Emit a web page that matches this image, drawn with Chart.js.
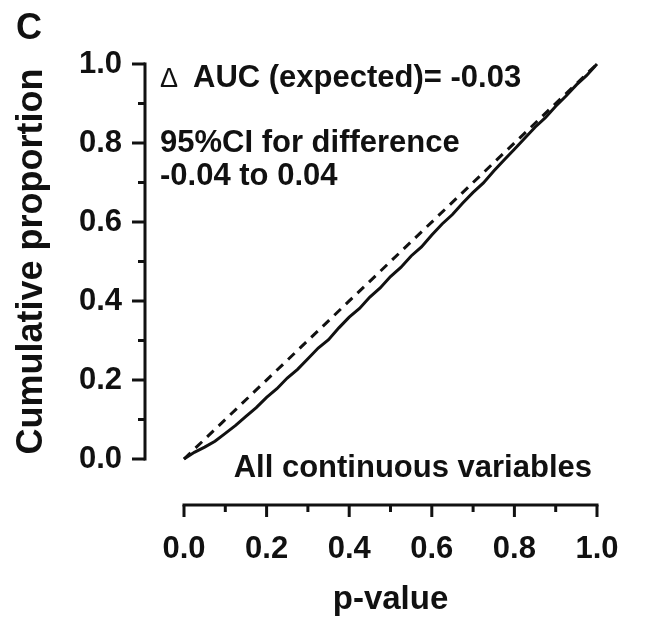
<!DOCTYPE html>
<html>
<head>
<meta charset="utf-8">
<script src="https://cdn.jsdelivr.net/npm/chart.js@4.4.0/dist/chart.umd.min.js"></script>
<style>
  body { margin: 0; background: #fff; }
</style>
</head>
<body>
<canvas id="myChart" width="657" height="620"></canvas>
<script>
// observed cumulative proportion of p-values
const pValues = [0, 0.025, 0.05, 0.075, 0.1, 0.125, 0.15, 0.175, 0.2, 0.225, 0.25, 0.275, 0.3, 0.325, 0.35, 0.375, 0.4, 0.425, 0.45, 0.475, 0.5,
  0.525, 0.55, 0.575, 0.6, 0.625, 0.65, 0.675, 0.7, 0.725, 0.75, 0.775, 0.8, 0.825, 0.85, 0.875, 0.9, 0.925, 0.95, 0.975, 1.0];
const observedProp = [0, 0.017, 0.030, 0.045, 0.065, 0.085, 0.108, 0.130, 0.156, 0.178, 0.205, 0.227, 0.254, 0.281, 0.302, 0.332, 0.359, 0.381, 0.410, 0.433, 0.462,
  0.485, 0.514, 0.537, 0.567, 0.595, 0.619, 0.648, 0.675, 0.699, 0.729, 0.757, 0.784, 0.812, 0.840, 0.864, 0.893, 0.919, 0.947, 0.971, 1.0];

// expected (uniform) line
const expectedX = [0, 1];
const expectedY = [0, 1];

const tickValues = [0, 0.2, 0.4, 0.6, 0.8, 1.0];
const minorTickValues = [0, 0.1, 0.2, 0.3, 0.4, 0.5, 0.6, 0.7, 0.8, 0.9, 1.0];

const panelLabel = 'C';
const annotations = ['\u0394', 'AUC (expected)= -0.03', '95%CI for difference', '-0.04 to 0.04', 'All continuous variables'];

const ink = '#111';
const fontFamily = '"Liberation Sans", Arial, sans-serif';

// draws the detached axes (offset from the plot like the original) and the text notes
const prismAxes = {
  id: 'prismAxes',
  afterDraw(chart) {
    const ctx = chart.ctx;
    const xs = chart.scales.x;
    const ys = chart.scales.y;
    const area = chart.chartArea;
    const axisX = area.left - 39;   // y axis line position
    const axisY = area.bottom + 46; // x axis line position

    ctx.save();
    ctx.strokeStyle = ink;
    ctx.lineWidth = 3;
    ctx.lineCap = 'butt';

    // y axis
    ctx.beginPath();
    ctx.moveTo(axisX, ys.getPixelForValue(0) + 1.5);
    ctx.lineTo(axisX, ys.getPixelForValue(1) - 1.5);
    ctx.stroke();
    minorTickValues.forEach((v, i) => {
      const y = ys.getPixelForValue(v);
      const len = i % 2 === 0 ? 13 : 7;
      ctx.beginPath();
      ctx.moveTo(axisX, y);
      ctx.lineTo(axisX - len, y);
      ctx.stroke();
    });

    // x axis
    ctx.beginPath();
    ctx.moveTo(xs.getPixelForValue(0) - 1.5, axisY);
    ctx.lineTo(xs.getPixelForValue(1) + 1.5, axisY);
    ctx.stroke();
    minorTickValues.forEach((v, i) => {
      const x = xs.getPixelForValue(v);
      const len = i % 2 === 0 ? 12 : 7;
      ctx.beginPath();
      ctx.moveTo(x, axisY);
      ctx.lineTo(x, axisY + len);
      ctx.stroke();
    });

    // text
    ctx.fillStyle = ink;
    ctx.textBaseline = 'alphabetic';
    ctx.textAlign = 'left';
    ctx.font = 'bold 36px ' + fontFamily;
    ctx.fillText(panelLabel, 16, 39);

    ctx.font = '27px ' + fontFamily;
    ctx.fillText(annotations[0], 160, 87);
    ctx.font = 'bold 31px ' + fontFamily;
    ctx.fillText(annotations[1], 193, 87);
    ctx.fillText(annotations[2], 160, 152);
    ctx.fillText(annotations[3], 160, 185);
    ctx.textAlign = 'right';
    ctx.fillText(annotations[4], 592, 477);
    ctx.restore();
  }
};

const ctx = document.getElementById('myChart').getContext('2d');

new Chart(ctx, {
  type: 'scatter',
  data: {
    datasets: [{
      label: 'observed',
      data: pValues.map((p, i) => ({ x: p, y: observedProp[i] })),
      showLine: true,
      borderColor: ink,
      borderWidth: 3,
      pointRadius: 0,
      tension: 0,
      clip: false
    }, {
      label: 'expected',
      data: expectedX.map((p, i) => ({ x: p, y: expectedY[i] })),
      showLine: true,
      borderColor: ink,
      borderWidth: 3,
      borderDash: [9, 7],
      pointRadius: 0,
      clip: false
    }]
  },
  options: {
    responsive: false,
    animation: false,
    layout: { padding: { top: 64, right: 60, left: 0, bottom: 0 } },
    plugins: {
      legend: { display: false },
      tooltip: { enabled: false }
    },
    scales: {
      x: {
        type: 'linear',
        min: 0,
        max: 1,
        afterBuildTicks: s => { s.ticks = tickValues.map(v => ({ value: v })); },
        // fixed box; the big tick padding should not push the plot inwards
        afterFit: s => { s.height = 161; s.paddingLeft = 0; s.paddingRight = 0; },
        grid: { drawOnChartArea: false, drawTicks: false },
        border: { display: false },
        ticks: {
          autoSkip: false,
          maxRotation: 0,
          minRotation: 0,
          padding: 72,
          color: ink,
          font: { family: fontFamily, size: 31, weight: 'bold' },
          callback: v => v.toFixed(1)
        },
        title: {
          display: true,
          text: 'p-value',
          color: ink,
          font: { family: fontFamily, size: 33, weight: 'bold' },
          padding: { top: 0, bottom: 0 }
        }
      },
      y: {
        type: 'linear',
        min: 0,
        max: 1,
        afterBuildTicks: s => { s.ticks = tickValues.map(v => ({ value: v })); },
        afterFit: s => { s.width = 184; s.paddingTop = 0; s.paddingBottom = 0; },
        grid: { drawOnChartArea: false, drawTicks: false },
        border: { display: false },
        ticks: {
          autoSkip: false,
          padding: 62,
          color: ink,
          font: { family: fontFamily, size: 31, weight: 'bold' },
          callback: v => v.toFixed(1)
        },
        title: {
          display: true,
          text: 'Cumulative proportion',
          color: ink,
          font: { family: fontFamily, size: 36, weight: 'bold' },
          padding: { top: 10, bottom: 0 }
        }
      }
    }
  },
  plugins: [prismAxes]
});
</script>
</body>
</html>
